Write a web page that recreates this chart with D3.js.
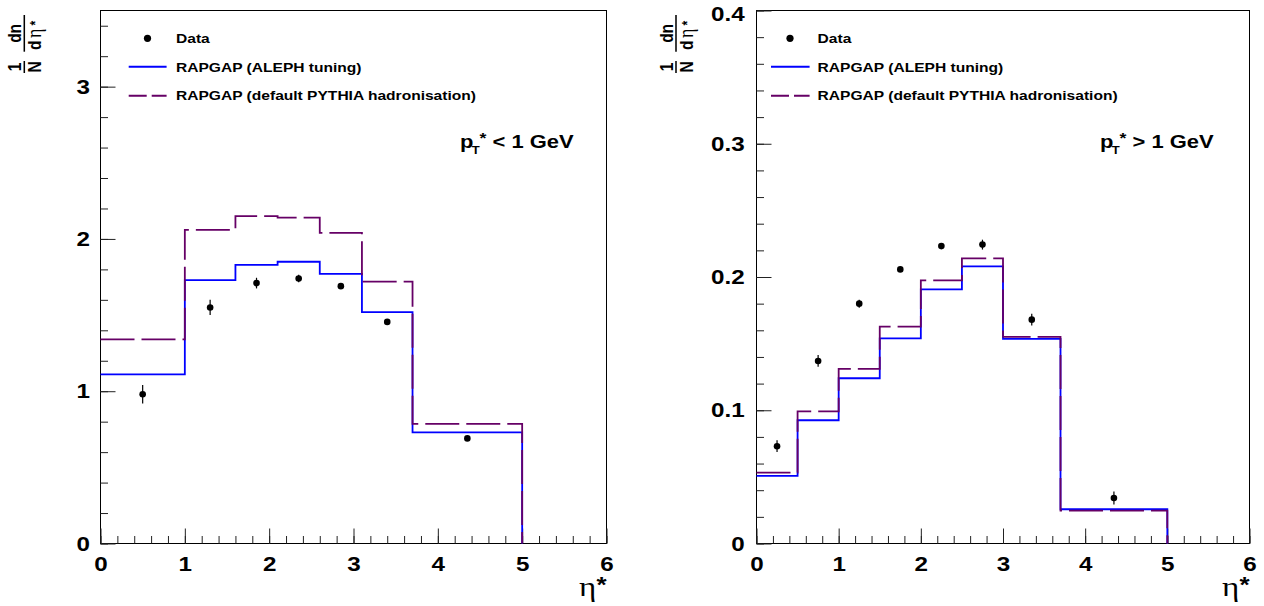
<!DOCTYPE html>
<html><head><meta charset="utf-8">
<script src="https://cdn.jsdelivr.net/npm/d3@7"></script>
<style>html,body{margin:0;padding:0;background:#fff;} svg{display:block;}</style>
</head><body>
<svg id="c" width="1264" height="606"></svg>
<script>
// ---------- data ----------
const leftEdges   = [0, 1, 1.6, 2.1, 2.6, 3.1, 3.7, 5];
const leftAleph   = [1.11, 1.73, 1.83, 1.85, 1.77, 1.52, 0.73];
const leftPythia  = [1.34, 2.06, 2.15, 2.14, 2.04, 1.72, 0.785];
const leftDataX   = [0.5, 1.3, 1.85, 2.35, 2.85, 3.4, 4.35];
const leftDataY   = [0.98, 1.55, 1.71, 1.74, 1.69, 1.455, 0.69];
const leftDataErr = [0.06, 0.05, 0.035, 0.025, 0.017, 0.01, 0.01];

const rightEdges   = [0, 0.5, 1, 1.5, 2, 2.5, 3, 3.7, 5];
const rightAleph   = [0.0507, 0.0925, 0.124, 0.154, 0.1907, 0.208, 0.1535, 0.0257];
const rightPythia  = [0.0532, 0.0992, 0.131, 0.1627, 0.1975, 0.214, 0.155, 0.0247];
const rightDataX   = [0.25, 0.75, 1.25, 1.75, 2.25, 2.75, 3.35, 4.35];
const rightDataY   = [0.073, 0.137, 0.180, 0.2057, 0.2232, 0.2243, 0.168, 0.0342];
const rightDataErr = [0.0044, 0.0044, 0.003, 0.002, 0.0022, 0.0037, 0.0044, 0.0049];

const xTicks      = [0, 1, 2, 3, 4, 5, 6];
const leftYTicks  = [0, 1, 2, 3];
const rightYTicks = [0, 0.1, 0.2, 0.3, 0.4];
const legendLabels = ["Data", "RAPGAP (ALEPH tuning)", "RAPGAP (default PYTHIA hadronisation)"];
const cutLabels = ["< 1 GeV", "> 1 GeV"];

// ---------- drawing ----------
const SX = 1.18;
const SANS = "'Liberation Sans', Arial, Helvetica, sans-serif";
const SERIF = "'Liberation Serif', 'Times New Roman', serif";
const BLUE = "#0000ff", PURPLE = "#660066";
const TOP = 10.5, BOT = 543.5;
const svg = d3.select("#c");

function stext(x, y, anchor) {
  return svg.append("text")
    .attr("transform", `translate(${x},${y}) scale(${SX},1)`)
    .attr("text-anchor", anchor || "start")
    .attr("font-family", SANS).attr("font-weight", "bold");
}

function panel(cfg) {
  const x = d3.scaleLinear().domain([0, 6]).range([cfg.x0, cfg.x1]);
  const y = d3.scaleLinear().domain([0, cfg.ymax]).range([BOT, TOP]);

  // frame
  svg.append("rect").attr("x", cfg.x0).attr("y", TOP)
    .attr("width", cfg.x1 - cfg.x0).attr("height", BOT - TOP)
    .attr("fill", "none").attr("stroke", "#000").attr("stroke-width", 1);

  // x axis minor / major
  svg.append("g").attr("transform", `translate(0,${BOT})`)
    .call(d3.axisBottom(x).tickValues(d3.range(0, 6.001, 0.2)).tickSizeInner(-7.5).tickSizeOuter(0).tickFormat(""))
    .call(s => s.select(".domain").remove())
    .selectAll("line").attr("stroke", "#222");
  const xa = svg.append("g").attr("transform", `translate(0,${BOT})`)
    .call(d3.axisBottom(x).tickValues(xTicks).tickSizeInner(-15).tickSizeOuter(0).tickPadding(13).tickFormat(d3.format("d")));
  xa.select(".domain").remove();
  xa.selectAll("line").attr("stroke", "#222");
  xa.selectAll("text").attr("font-family", SANS).attr("font-weight", "bold")
    .attr("font-size", 20.5).attr("fill", "#000")
    .attr("transform", `scale(${SX},1)`);

  // y axis minor / major
  svg.append("g").attr("transform", `translate(${cfg.x0},0)`)
    .call(d3.axisLeft(y).tickValues(d3.range(0, cfg.ymax * 1.0001, cfg.minor)).tickSizeInner(-7.5).tickSizeOuter(0).tickFormat(""))
    .call(s => s.select(".domain").remove())
    .selectAll("line").attr("stroke", "#222");
  const ya = svg.append("g").attr("transform", `translate(${cfg.x0},0)`)
    .call(d3.axisLeft(y).tickValues(cfg.yTicks).tickSizeInner(-15).tickSizeOuter(0).tickPadding(cfg.pad).tickFormat(cfg.fmt));
  ya.select(".domain").remove();
  ya.selectAll("line").attr("stroke", "#222");
  ya.selectAll("text").attr("font-family", SANS).attr("font-weight", "bold")
    .attr("font-size", 20.5).attr("fill", "#000")
    .attr("transform", d => `translate(0,${d === cfg.ymax ? 3.5 : 0}) scale(${SX},1)`);

  // histograms
  function stepPath(edges, vals) {
    const pts = vals.map((v, i) => [edges[i], v]);
    pts.push([edges[edges.length - 1], vals[vals.length - 1]]);
    pts.push([edges[edges.length - 1], 0]);
    return d3.line().x(d => x(d[0])).y(d => y(d[1])).curve(d3.curveStepAfter)(pts);
  }
  svg.append("path").attr("d", stepPath(cfg.edges, cfg.aleph))
    .attr("fill", "none").attr("stroke", BLUE).attr("stroke-width", 1.8);
  svg.append("path").attr("d", stepPath(cfg.edges, cfg.pythia))
    .attr("fill", "none").attr("stroke", PURPLE).attr("stroke-width", 1.8)
    .attr("stroke-dasharray", "34,7");

  // data points
  const pts = cfg.dx.map((d, i) => ({x: d, y: cfg.dy[i], e: cfg.de[i]}));
  svg.append("g").selectAll("line").data(pts).join("line")
    .attr("x1", d => x(d.x)).attr("x2", d => x(d.x))
    .attr("y1", d => y(d.y - d.e)).attr("y2", d => y(d.y + d.e))
    .attr("stroke", "#000").attr("stroke-width", 1.2);
  svg.append("g").selectAll("circle").data(pts).join("circle")
    .attr("cx", d => x(d.x)).attr("cy", d => y(d.y)).attr("r", 3.3).attr("fill", "#000");

  // legend
  svg.append("circle").attr("cx", cfg.legM).attr("cy", 38.3).attr("r", 3.6).attr("fill", "#000");
  svg.append("line").attr("x1", cfg.legL0).attr("x2", cfg.legL1).attr("y1", 66.7).attr("y2", 66.7)
    .attr("stroke", BLUE).attr("stroke-width", 2);
  svg.append("line").attr("x1", cfg.legL0).attr("x2", cfg.legL1).attr("y1", 95.7).attr("y2", 95.7)
    .attr("stroke", PURPLE).attr("stroke-width", 2).attr("stroke-dasharray", "18,5");
  [43, 71.5, 100].forEach((yy, i) => {
    stext(cfg.legT, yy).attr("font-size", 13.2).text(legendLabels[i]);
  });

  // pT cut label
  const t = stext(cfg.ptX, 148).attr("font-size", 18.6);
  t.append("tspan").text("p");
  t.append("tspan").attr("font-size", 11).attr("dx", -1.5).attr("dy", 6).text("T");
  t.append("tspan").attr("font-size", 15).attr("dy", -11).text("*");
  t.append("tspan").attr("font-size", 18.6).attr("dy", 5).text(" " + cfg.cut);

  // x title
  const xt = svg.append("text")
    .attr("transform", `translate(${cfg.x1},596) scale(${SX},1)`)
    .attr("text-anchor", "end");
  xt.append("tspan").attr("font-family", SERIF).attr("font-size", 28).text("η");
  xt.append("tspan").attr("font-family", SANS).attr("font-weight", "bold").attr("font-size", 22).attr("dy", -4).text("*");

  // y title (rotated fraction)
  const yt = svg.append("g").attr("transform", `translate(${cfg.tx},74) scale(${SX},1) rotate(-90)`);
  const tt = (u, v, s, opts) => yt.append("text").attr("x", u).attr("y", v)
    .attr("font-family", opts && opts.serif ? SERIF : SANS)
    .attr("font-weight", opts && opts.serif ? "normal" : "bold")
    .attr("font-size", (opts && opts.size) || 15.5)
    .attr("text-anchor", (opts && opts.anchor) || "start").text(s);
  tt(7, -2.5, "1", {anchor: "middle"});
  tt(7, 14.4, "N", {anchor: "middle"});
  yt.append("line").attr("x1", 1).attr("x2", 13).attr("y1", 0).attr("y2", 0).attr("stroke", "#000").attr("stroke-width", 1.3);
  tt(40.6, -2.4, "dn", {anchor: "middle"});
  yt.append("line").attr("x1", 22.3).attr("x2", 59).attr("y1", 0).attr("y2", 0).attr("stroke", "#000").attr("stroke-width", 1.3);
  tt(24, 14.4, "d");
  tt(36, 14.4, "η", {serif: true, size: 18});
  tt(48.5, 13.5, "*", {size: 12});
}

panel({
  x0: 100.5, x1: 606.5, ymax: 3.5, minor: 0.2, yTicks: leftYTicks, pad: 9,
  fmt: d3.format("d"),
  edges: leftEdges, aleph: leftAleph, pythia: leftPythia,
  dx: leftDataX, dy: leftDataY, de: leftDataErr,
  legM: 147.5, legL0: 128.7, legL1: 166.6, legT: 176,
  ptX: 460, cut: cutLabels[0], tx: 24.3
});
panel({
  x0: 756.5, x1: 1249.5, ymax: 0.4, minor: 0.02, yTicks: rightYTicks, pad: 10,
  fmt: d => d === 0 ? "0" : d3.format(".1f")(d),
  edges: rightEdges, aleph: rightAleph, pythia: rightPythia,
  dx: rightDataX, dy: rightDataY, de: rightDataErr,
  legM: 790, legL0: 771, legL1: 809.6, legT: 817.6,
  ptX: 1100, cut: cutLabels[1], tx: 676
});
</script>
</body></html>
